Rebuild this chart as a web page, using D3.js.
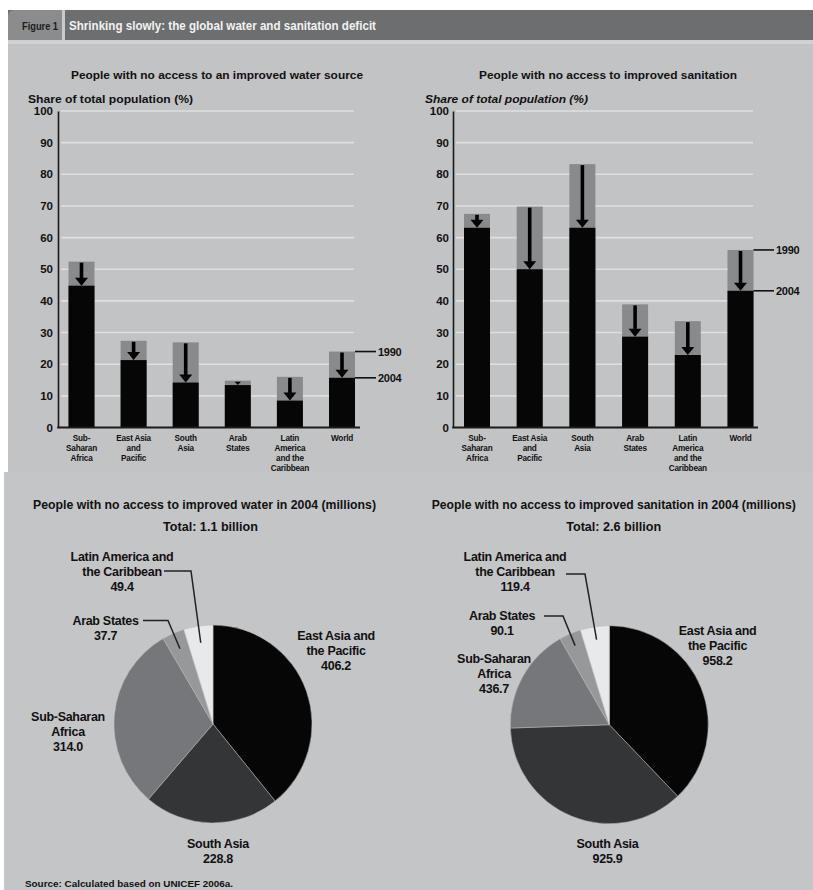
<!DOCTYPE html>
<html><head><meta charset="utf-8">
<script src="https://cdn.jsdelivr.net/npm/d3@7"></script>
<style>
body{margin:0;background:#fff;}
svg{display:block;}
text{font-family:"Liberation Sans Narrow","Liberation Sans",Arial,sans-serif;font-weight:bold;fill:#111;}
</style></head><body>
<svg id="c" width="813" height="890"></svg>
<script>
// ---------- DATA ----------
const regions = ["Sub-Saharan Africa","East Asia and Pacific","South Asia","Arab States","Latin America and the Caribbean","World"];
const regionLabelLines = [["Sub-","Saharan","Africa"],["East Asia","and","Pacific"],["South","Asia"],["Arab","States"],["Latin","America","and the","Caribbean"],["World"]];
const water1990 = [52.4, 27.4, 26.9, 14.8, 16.0, 24.0];
const water2004 = [44.8, 21.3, 14.2, 13.4, 8.5, 15.7];
const sanit1990 = [67.5, 69.8, 83.2, 38.9, 33.6, 56.1];
const sanit2004 = [63.1, 50.0, 63.1, 28.7, 22.9, 43.2];
const yTicks = [0,10,20,30,40,50,60,70,80,90,100];
const years = ["1990","2004"];

const pieRegions = ["East Asia and the Pacific","South Asia","Sub-Saharan Africa","Arab States","Latin America and the Caribbean"];
const pieLabelLines = [["East Asia and","the Pacific"],["South Asia"],["Sub-Saharan","Africa"],["Arab States"],["Latin America and","the Caribbean"]];
const waterMillions = [406.2, 228.8, 314.0, 37.7, 49.4];
const sanitMillions = [958.2, 925.9, 436.7, 90.1, 119.4];

// ---------- STYLE ----------
const C = {
  header:"#6d6e70", tab:"#8b8c8e", strip:"#d0d1d3", panel:"#c2c3c5", panel2:"#c4c5c7",
  grid:"#dedfe1", ink:"#111", bar1990:"#898a8c", bar2004:"#060606",
  slices:["#060606","#343537","#76777a","#97989a","#e8e9eb"]
};
const WIDE = '"Liberation Sans",Arial,sans-serif';

const svg = d3.select("#c");

// backgrounds
svg.append("rect").attr("x",8).attr("y",38).attr("width",805).attr("height",435).attr("fill",C.panel);
svg.append("rect").attr("x",4).attr("y",472).attr("width",809).attr("height",418).attr("fill",C.panel2);
svg.append("rect").attr("x",8).attr("y",38).attr("width",805).attr("height",6).attr("fill",C.strip);
// header
svg.append("rect").attr("x",8).attr("y",10).attr("width",805).attr("height",30).attr("fill",C.header);
svg.append("path").attr("d","M8,40 V17 Q8,10 15,10 H62 V40 Z").attr("fill",C.tab);
svg.append("rect").attr("x",62).attr("y",10).attr("width",3).attr("height",30).attr("fill","#c9cacc");
svg.append("text").attr("x",22).attr("y",29.5).attr("font-size",10).attr("textLength",36).attr("lengthAdjust","spacingAndGlyphs").style("fill","#1c1c1c").text("Figure 1");
svg.append("text").attr("x",69).attr("y",30).attr("font-size",12.5).attr("textLength",307).attr("lengthAdjust","spacingAndGlyphs").style("fill","#f2f2f2").text("Shrinking slowly: the global water and sanitation deficit");

// ---------- BAR CHARTS ----------
const y = d3.scaleLinear().domain([0,100]).range([427.5,111]);

function drawBars(cfg){
  const g = svg.append("g");
  const x = d3.scalePoint().domain(regions).range([cfg.first, cfg.last]);
  const bw = 26;
  // title
  g.append("text").attr("x",cfg.titleX).attr("y",79).attr("text-anchor","middle").attr("font-size",11)
    .attr("textLength",cfg.titleLen).attr("lengthAdjust","spacingAndGlyphs").text(cfg.title);
  g.append("text").attr("x",cfg.shareX).attr("y",103).attr("font-size",11).style("font-style",cfg.italic?"italic":"normal")
    .attr("textLength",cfg.shareLen).attr("lengthAdjust","spacingAndGlyphs").text("Share of total population (%)");
  // grid
  g.selectAll("line.grid").data(yTicks.filter(d=>d>0)).join("line")
    .attr("x1",cfg.axisX+3).attr("x2",cfg.gridEnd).attr("y1",d=>y(d)).attr("y2",d=>y(d))
    .attr("stroke",C.grid).attr("stroke-width",1.6);
  // axis
  const ax = g.append("g").attr("transform",`translate(${cfg.axisX},0)`)
    .call(d3.axisLeft(y).tickValues(yTicks).tickSize(0).tickSizeOuter(0).tickPadding(cfg.pad));
  ax.select(".domain").attr("stroke","#1a1a1a").attr("stroke-width",1.6);
  ax.selectAll("text").attr("font-size",11.5).style("font-family",WIDE).style("fill",C.ink).attr("font-weight","bold");
  // bars
  const data = regions.map((r,i)=>({r, a:cfg.v1990[i], b:cfg.v2004[i], lines:regionLabelLines[i]}));
  g.selectAll("rect.b90").data(data).join("rect")
    .attr("x",d=>x(d.r)-bw/2).attr("width",bw).attr("y",d=>y(d.a)).attr("height",d=>y(0)-y(d.a)).attr("fill",C.bar1990);
  g.selectAll("rect.b04").data(data).join("rect")
    .attr("x",d=>x(d.r)-bw/2).attr("width",bw).attr("y",d=>y(d.b)).attr("height",d=>y(0)-y(d.b)).attr("fill",C.bar2004);
  // arrows
  data.forEach(d=>{
    const cx = x(d.r), y0 = y(d.a)+1, y1 = y(d.b);
    const hh = Math.min(8, y1-y0), hw = 6*hh/8;
    if (y1-hh-y0 > 0) g.append("rect").attr("x",cx-1.8).attr("width",3.6).attr("y",y0).attr("height",y1-hh-y0+0.5).attr("fill","#000");
    g.append("path").attr("d",`M${cx-hw-0.5},${y1-hh} L${cx+hw+0.5},${y1-hh} L${cx},${y1} Z`).attr("fill","#000");
  });
  // baseline
  g.append("line").attr("x1",cfg.axisX-0.8).attr("x2",cfg.baseEnd).attr("y1",y(0)).attr("y2",y(0)).attr("stroke","#1a1a1a").attr("stroke-width",2);
  // category labels
  data.forEach(d=>{
    const t = g.append("text").attr("x",x(d.r)).attr("y",440.5).attr("text-anchor","middle").attr("font-size",8.2)
      .style("font-family",WIDE).attr("letter-spacing",-0.2);
    d.lines.forEach((l,k)=>t.append("tspan").attr("x",x(d.r)).attr("dy",k?10.2:0).text(l));
  });
  // year annotations on last bar
  const last = data[data.length-1];
  [last.a,last.b].forEach((v,k)=>{
    g.append("line").attr("x1",x(last.r)+bw/2).attr("x2",cfg.annX).attr("y1",y(v)).attr("y2",y(v)).attr("stroke","#111").attr("stroke-width",1.6);
    g.append("text").attr("x",cfg.annX+2).attr("y",y(v)).attr("dy","0.36em").attr("font-size",11)
      .style("font-family",WIDE).attr("letter-spacing",-0.3).text(years[k]);
  });
}

drawBars({axisX:58, first:81.5, last:342, gridEnd:354, baseEnd:360, annX:376, pad:5,
  title:"People with no access to an improved water source", titleX:217, titleLen:292,
  shareX:28, shareLen:165, v1990:water1990, v2004:water2004});
drawBars({axisX:453, first:477, last:740.5, gridEnd:753, baseEnd:758, annX:774, pad:4,
  title:"People with no access to improved sanitation", titleX:608, titleLen:258,
  shareX:425, shareLen:163, italic:true, v1990:sanit1990, v2004:sanit2004});

// ---------- PIE CHARTS ----------
const fmt = d3.format(".1f");
function drawPie(cfg){
  const g = svg.append("g");
  g.append("text").attr("x",cfg.titleX).attr("y",509).attr("text-anchor","middle").attr("font-size",12)
    .attr("textLength",cfg.titleLen).attr("lengthAdjust","spacingAndGlyphs").text(cfg.title);
  g.append("text").attr("x",cfg.titleX+cfg.totalDx).attr("y",531).attr("text-anchor","middle").attr("font-size",12)
    .attr("textLength",95).attr("lengthAdjust","spacingAndGlyphs").text(cfg.total);
  const pie = d3.pie().sort(null).value(d=>d.v);
  const arcs = pie(pieRegions.map((r,i)=>({r, v:cfg.values[i], i})));
  const arc = d3.arc().innerRadius(0).outerRadius(cfg.r);
  const pg = g.append("g").attr("transform",`translate(${cfg.cx},${cfg.cy})`);
  pg.selectAll("path").data(arcs).join("path").attr("d",arc).attr("fill",(d,i)=>C.slices[i])
    .attr("stroke","#b9babc").attr("stroke-width",0.5);
  arcs.forEach((a,i)=>{
    const L = cfg.labels[i];
    const lines = pieLabelLines[i].concat([fmt(a.data.v)]);
    const t = g.append("text").attr("x",L.x).attr("y",L.y).attr("text-anchor","middle").attr("font-size",12.5).attr("letter-spacing",-0.3);
    lines.forEach((l,k)=>t.append("tspan").attr("x",L.x).attr("dy",k?15:0).text(l));
    if (L.lead){
      const ang = (a.startAngle+a.endAngle)/2;
      const px = cfg.cx + Math.sin(ang)*cfg.r*cfg.leadR, py = cfg.cy - Math.cos(ang)*cfg.r*cfg.leadR;
      g.append("path").attr("d",`M${L.lead[0]},${L.lead[2]} H${L.lead[1]} L${px},${py}`)
        .attr("fill","none").attr("stroke","#222").attr("stroke-width",1.5);
    }
  });
}

drawPie({cx:213, cy:724, r:99, leadR:0.83, values:waterMillions,
  title:"People with no access to improved water in 2004 (millions)", titleX:204.5, titleLen:343,
  total:"Total: 1.1 billion", totalDx:6,
  labels:[{x:336,y:640},{x:218,y:848},{x:68,y:721},{x:105.5,y:625,lead:[143,168,620.5]},{x:122,y:561,lead:[164,191,571]}]});
drawPie({cx:609.3, cy:724.7, r:99, leadR:0.87, values:sanitMillions,
  title:"People with no access to improved sanitation in 2004 (millions)", titleX:613.7, titleLen:364,
  total:"Total: 2.6 billion", totalDx:0,
  labels:[{x:717.5,y:635},{x:607.5,y:847.5},{x:494,y:663},{x:502,y:620,lead:[544,563,616]},{x:515,y:561,lead:[566,585,574]}]});

// source
svg.append("text").attr("x",25).attr("y",887).attr("font-size",9).attr("textLength",208).attr("lengthAdjust","spacingAndGlyphs")
  .text("Source: Calculated based on UNICEF 2006a.");
</script>
</body></html>
